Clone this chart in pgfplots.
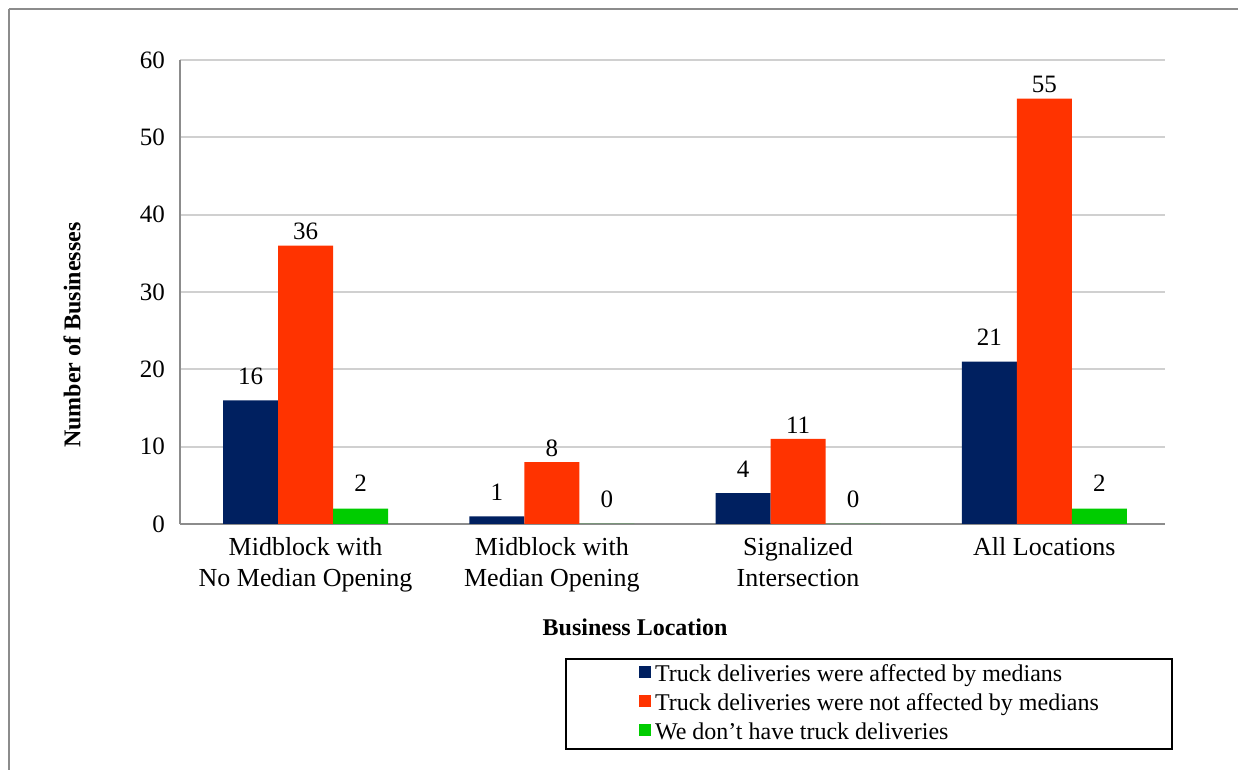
\documentclass[border=0pt]{standalone}
\usepackage{fontspec}
\setmainfont{Liberation Serif}
\usepackage{pgfplots}
\pgfplotsset{compat=1.18}
\definecolor{navyb}{HTML}{002060}
\definecolor{oranb}{HTML}{FF3300}
\definecolor{greenb}{HTML}{00CC00}
\definecolor{frameg}{HTML}{8C8C8C}
\definecolor{gridg}{HTML}{D0D0D0}
\begin{document}
\begin{tikzpicture}
\useasboundingbox (-90pt,-123pt) rectangle (529pt,262pt);
\fill[white] (-90pt,-123pt) rectangle (529pt,262pt);
\draw[frameg, line width=1pt] (-85.5pt,257.5pt) -- (560pt,257.5pt);
\draw[frameg, line width=1pt] (-85.5pt,257.5pt) -- (-85.5pt,-160pt);
\begin{axis}[
  at={(0pt,0pt)}, anchor=south west,
  scale only axis,
  width=492.5pt, height=232pt,
  ybar=0pt, bar width=27.5pt,
  xmin=-0.51, xmax=3.49, ymin=0, ymax=60,
  xtick={0,1,2,3},
  xticklabels={{Midblock with\\No Median Opening},{Midblock with\\Median Opening},{Signalized\\Intersection},{All Locations}},
  xticklabel style={align=center, font=\fontsize{13}{15.5}\selectfont, yshift=-3pt},
  ytick={0,10,20,30,40,50,60},
  yticklabels={0,10,20,30,40,50,60},
  yticklabel style={font=\fontsize{12.5}{15}\selectfont, xshift=-4pt},
  major tick length=0pt,
  axis x line*=bottom, axis y line*=left,
  axis line style={frameg, line width=1pt, -},
  ymajorgrids, grid style={gridg, line width=1pt},
  xlabel={\textbf{Business Location}},
  xlabel style={at={(axis description cs:0.462,-0.222)}, anchor=center, font=\fontsize{12}{14}\selectfont},
  ylabel={\textbf{Number of Businesses}},
  ylabel style={at={(axis description cs:-0.1096,0.407)}, anchor=center, font=\fontsize{12}{14}\selectfont},
  nodes near coords={\pgfmathprintnumber[assume math mode=true]{\pgfplotspointmeta}},
  every node near coord/.append style={font=\fontsize{12.5}{15}\selectfont, anchor=center, text=black},
  legend style={at={(axis description cs:1.008,-0.289)}, anchor=north east,
    draw=black, line width=1pt, font=\fontsize{12}{14}\selectfont,
    inner xsep=36.5pt, inner ysep=2pt,
    nodes={inner sep=0pt, text height=9pt, text depth=3pt},
    row sep=2.5pt,
    /tikz/every odd column/.append style={column sep=2pt}},
  legend cell align=left,
  legend image code/.code={\fill[#1] (0pt,-1.5pt) rectangle (6pt,4.5pt);},
]
\addplot[fill=navyb, draw=none, every node near coord/.append style={yshift=12pt}] coordinates {(0,16) (1,1) (2,4) (3,21)};
\addplot[fill=oranb, draw=none, every node near coord/.append style={yshift=7pt}] coordinates {(0,36) (1,8) (2,11) (3,55)};
\addplot[fill=greenb, draw=none, every node near coord/.append style={yshift=12.5pt}] coordinates {(0,2) (1,0) (2,0) (3,2)};
\legend{Truck deliveries were affected by medians, Truck deliveries were not affected by medians, We don’t have truck deliveries}
\end{axis}
\end{tikzpicture}
\end{document}
